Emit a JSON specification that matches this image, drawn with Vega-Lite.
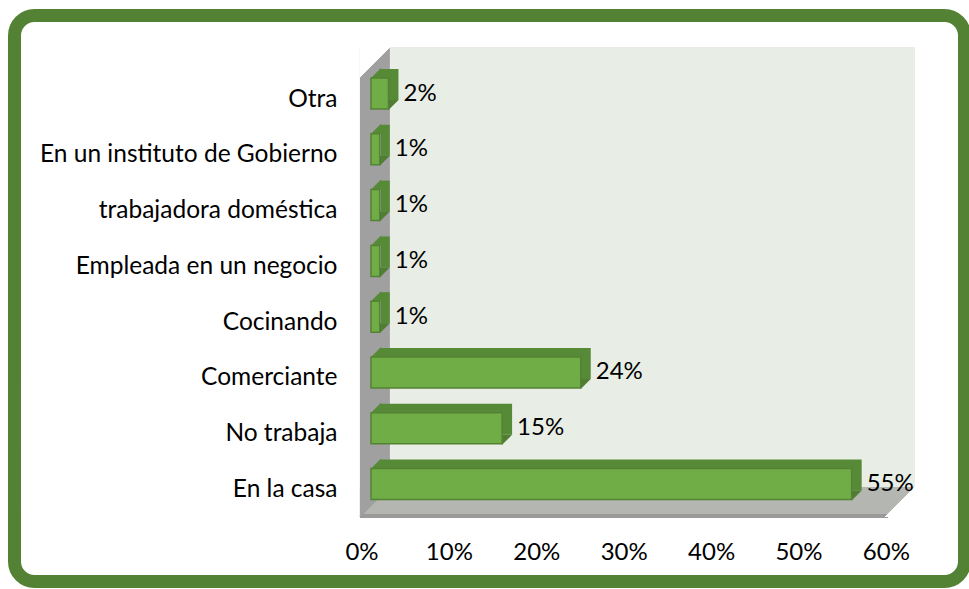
{
  "$schema": "https://vega.github.io/schema/vega-lite/v6.json",
  "width": 950,
  "height": 566,
  "padding": {"left": 14.5, "top": 15.5, "right": 4.5, "bottom": 7.5},
  "autosize": {"type": "none"},
  "background": "white",
  "config": {
    "view": {"stroke": "#548235", "strokeWidth": 13, "cornerRadius": 20, "fill": "white"},
    "font": "Lato"
  },
  "data": {
    "values": [
      {"cat": "Otra", "value": 0.02},
      {"cat": "En un instituto de Gobierno", "value": 0.01},
      {"cat": "trabajadora doméstica", "value": 0.01},
      {"cat": "Empleada en un negocio", "value": 0.01},
      {"cat": "Cocinando", "value": 0.01},
      {"cat": "Comerciante", "value": 0.24},
      {"cat": "No trabaja", "value": 0.15},
      {"cat": "En la casa", "value": 0.55}
    ]
  },
  "encoding": {
    "y": {
      "field": "cat",
      "type": "nominal",
      "scale": {
        "domain": ["Otra", "En un instituto de Gobierno", "trabajadora doméstica", "Empleada en un negocio", "Cocinando", "Comerciante", "No trabaja", "En la casa"],
        "paddingInner": 0.4444,
        "paddingOuter": 0,
        "rangeMin": 62.5,
        "rangeMax": 484.1
      },
      "axis": {
        "title": null,
        "orient": "left",
        "offset": -345.5,
        "domain": false,
        "ticks": false,
        "tickSize": 0,
        "labelPadding": 23,
        "labelOffset": 6,
        "labelFontSize": 24.5,
        "labelFont": "Lato",
        "labelColor": "#000000",
        "labelLimit": 400
      }
    }
  },
  "layer": [
    {
      "mark": {"type": "rect", "height": 470, "yOffset": 21, "color": "#9fa09f"},
      "encoding": {
        "x": {"datum": -0.01259, "type": "quantitative", "scale": {"domain": [-0.4079, 0.6791], "nice": false, "zero": false},
          "axis": {
            "title": null, "orient": "bottom", "offset": -64.5, "values": [0, 0.1, 0.2, 0.3, 0.4, 0.5, 0.6],
            "format": ".0%", "domain": false, "ticks": false, "tickSize": 0, "grid": false,
            "labelPadding": 23, "labelOffset": -9.5, "labelFontSize": 24, "labelFont": "Lato", "labelColor": "#000000"
          }},
        "x2": {"datum": 0.02174},
        "y": {"datum": "Empleada en un negocio", "type": "nominal"}
      }
    },
    {
      "mark": {"type": "rect", "height": 440, "yOffset": 6, "color": "#e8eee6"},
      "encoding": {
        "x": {"datum": 0.02174, "type": "quantitative"},
        "x2": {"datum": 0.6224},
        "y": {"datum": "Empleada en un negocio", "type": "nominal"}
      }
    },
    {
      "mark": {"type": "rect", "height": 30, "yOffset": 18, "color": "#b3b6b1"},
      "encoding": {
        "x": {"datum": -0.01259, "type": "quantitative"},
        "x2": {"datum": 0.6224},
        "y": {"datum": "En la casa", "type": "nominal"}
      }
    },
    {
      "mark": {"type": "rect", "height": 3, "yOffset": 32, "color": "#999a99"},
      "encoding": {
        "x": {"datum": -0.01259, "type": "quantitative"},
        "x2": {"datum": 0.5915},
        "y": {"datum": "En la casa", "type": "nominal"}
      }
    },
    {
      "mark": {"type": "point", "shape": "M-1,-1L1,-1L-1,1Z", "size": 900, "filled": true, "opacity": 1, "color": "#9fa09f", "yOffset": 18},
      "encoding": {
        "x": {"datum": 0.00458, "type": "quantitative"},
        "y": {"datum": "En la casa", "type": "nominal"}
      }
    },
    {
      "mark": {"type": "point", "shape": "M-1,-1L1,-1L-1,1Z", "size": 900, "filled": true, "opacity": 1, "color": "#ffffff", "yOffset": -31.5},
      "encoding": {
        "x": {"datum": 0.00458, "type": "quantitative"},
        "y": {"datum": "Otra", "type": "nominal"}
      }
    },
    {
      "mark": {"type": "point", "shape": "M1,-1L1,1L-1,1Z", "size": 900, "filled": true, "opacity": 1, "color": "#ffffff", "yOffset": 18},
      "encoding": {
        "x": {"datum": 0.6053, "type": "quantitative"},
        "y": {"datum": "En la casa", "type": "nominal"}
      }
    },
    {
      "mark": {"type": "bar", "xOffset": 10, "x2Offset": 10, "yOffset": -9, "y2Offset": -9, "color": "#578a37"},
      "encoding": {
        "x": {"field": "value", "type": "quantitative"}
      }
    },
    {
      "mark": {"type": "point", "shape": "M-1,1L1,-1L1,1Z", "size": 100, "filled": true, "opacity": 1, "color": "#578a37", "yOffset": -20.5},
      "encoding": {
        "x": {"datum": 0.00572, "type": "quantitative"}
      }
    },
    {
      "mark": {"type": "point", "shape": "M-1,-1L1,-1L-1,1Z", "size": 100, "filled": true, "opacity": 1, "color": "#4f7d32", "xOffset": 5, "yOffset": 11.5},
      "encoding": {
        "x": {"field": "value", "type": "quantitative"}
      }
    },
    {
      "mark": {"type": "bar", "color": "#70ad47", "stroke": "#548235", "strokeWidth": 1.5},
      "encoding": {
        "x": {"field": "value", "type": "quantitative"}
      }
    },
    {
      "mark": {"type": "text", "align": "left", "baseline": "middle", "dx": 15, "fontSize": 24, "font": "Lato", "color": "#000000"},
      "encoding": {
        "x": {"field": "value", "type": "quantitative"},
        "text": {"field": "value", "type": "quantitative", "format": ".0%"}
      }
    }
  ]
}
